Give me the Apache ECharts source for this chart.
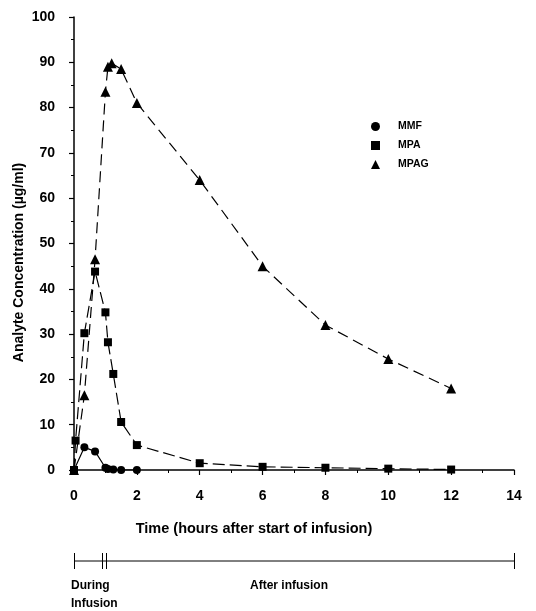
<!DOCTYPE html>
<html>
<head>
<meta charset="utf-8">
<script src="https://cdn.jsdelivr.net/npm/echarts@6/dist/echarts.min.js"></script>
<style>
  html, body { margin: 0; padding: 0; background: #fff; }
  #chart { width: 536px; height: 611px; }
</style>
</head>
<body>
<div id="chart"></div>
<script>
  // hours after start of infusion, concentration in ug/ml
  var mmfTime = [0, 0.33, 0.67, 1.0, 1.08, 1.25, 1.5, 2]
  var mmfConc = [0, 5.0, 4.1, 0.5, 0.2, 0.1, 0, 0]
  var mpaTime = [0, 0.05, 0.33, 0.67, 1.0, 1.08, 1.25, 1.5, 2, 4, 6, 8, 10, 12]
  var mpaConc = [0, 6.5, 30.2, 43.8, 34.8, 28.2, 21.2, 10.6, 5.5, 1.5, 0.7, 0.5, 0.3, 0.1]
  var mpagTime = [0, 0.33, 0.67, 1.0, 1.08, 1.2, 1.5, 2, 4, 6, 8, 10, 12]
  var mpagConc = [0, 16.5, 46.5, 83.5, 89.0, 89.8, 88.5, 81.0, 64.0, 45.0, 32.0, 24.5, 18.0]
  // phase bar: start, end of infusion (double mark), end of sampling
  var phaseMarks = [0, 0.9, 1.03, 14]

  function pairs(t, v) {
    return t.map(function (x, i) { return [x, v[i]] })
  }

  var font = 'Liberation Sans, Arial, sans-serif'
  var chart = echarts.init(document.getElementById('chart'))

  chart.setOption({
    animation: false,
    textStyle: { fontFamily: font, color: '#000' },
    grid: [
      { left: 74, right: 22, top: 17, bottom: 141 },
      { left: 74, right: 22, top: 553, height: 16 }
    ],
    legend: {
      orient: 'vertical',
      left: 366,
      top: 116,
      itemWidth: 9,
      itemHeight: 9,
      itemGap: 8,
      textStyle: { fontSize: 10.5, fontWeight: 'bold', color: '#000', padding: [0, 0, 0, 13] },
      data: [
        { name: 'MMF', icon: 'circle' },
        { name: 'MPA', icon: 'rect' },
        { name: 'MPAG', icon: 'triangle' }
      ]
    },
    xAxis: [
      {
        type: 'value', gridIndex: 0, min: 0, max: 14, interval: 2,
        name: 'Time (hours after start of infusion)',
        nameLocation: 'middle', nameGap: 51, nameMoveOverlap: false,
        nameTextStyle: { fontSize: 14.5, fontWeight: 'bold', color: '#000', padding: [0, 80, 0, 0] },
        axisLine: { lineStyle: { color: '#000', width: 1.5 } },
        axisTick: { length: 5, lineStyle: { color: '#000', width: 1.2 } },
        minorTick: { show: true, splitNumber: 2, length: 3, lineStyle: { color: '#000' } },
        axisLabel: { fontSize: 14, fontWeight: 'bold', color: '#000', margin: 19 },
        splitLine: { show: false }
      },
      {
        type: 'value', gridIndex: 1, min: 0, max: 14,
        axisLine: { show: false }, axisTick: { show: false },
        axisLabel: { show: false }, splitLine: { show: false }
      }
    ],
    yAxis: [
      {
        type: 'value', gridIndex: 0, min: 0, max: 100, interval: 10,
        name: 'Analyte Concentration (\u00b5g/ml)',
        nameLocation: 'middle', nameGap: 48, nameMoveOverlap: false,
        nameTextStyle: { fontSize: 14, fontWeight: 'bold', color: '#000', padding: [0, 38, 0, 0] },
        axisLine: { show: true, lineStyle: { color: '#000', width: 1.5 } },
        axisTick: { show: true, length: 5, lineStyle: { color: '#000', width: 1.2 } },
        minorTick: { show: true, splitNumber: 2, length: 3, lineStyle: { color: '#000' } },
        axisLabel: { fontSize: 14, fontWeight: 'bold', color: '#000', margin: 19 },
        splitLine: { show: false }
      },
      {
        type: 'value', gridIndex: 1, min: -1, max: 1, show: false
      }
    ],
    graphic: [
      { type: 'text', left: 71, top: 580, style: { text: 'During', font: 'bold 12px ' + font, fill: '#000' } },
      { type: 'text', left: 71, top: 598, style: { text: 'Infusion', font: 'bold 12px ' + font, fill: '#000' } },
      { type: 'text', left: 250, top: 580, style: { text: 'After infusion', font: 'bold 12px ' + font, fill: '#000' } }
    ],
    series: [
      {
        name: 'MMF', type: 'line', data: pairs(mmfTime, mmfConc),
        symbol: 'circle', symbolSize: 8, z: 3,
        itemStyle: { color: '#000' },
        lineStyle: { color: '#000', width: 1.2 }
      },
      {
        name: 'MPA', type: 'line', data: pairs(mpaTime, mpaConc),
        symbol: 'rect', symbolSize: 8, z: 3,
        itemStyle: { color: '#000' },
        lineStyle: { color: '#000', width: 1.2, type: [12, 5] }
      },
      {
        name: 'MPAG', type: 'line', data: pairs(mpagTime, mpagConc),
        symbol: 'triangle', symbolSize: 10, z: 3,
        itemStyle: { color: '#000' },
        lineStyle: { color: '#000', width: 1.2, type: [11, 6] }
      },
      {
        type: 'line', xAxisIndex: 1, yAxisIndex: 1,
        data: [[phaseMarks[0], 0], [phaseMarks[3], 0]],
        symbol: 'none', silent: true,
        lineStyle: { color: '#000', width: 1 },
        markLine: {
          symbol: 'none', silent: true, label: { show: false },
          lineStyle: { color: '#000', width: 1, type: 'solid' },
          data: phaseMarks.map(function (x) { return { xAxis: x } })
        }
      }
    ]
  })
</script>
</body>
</html>
